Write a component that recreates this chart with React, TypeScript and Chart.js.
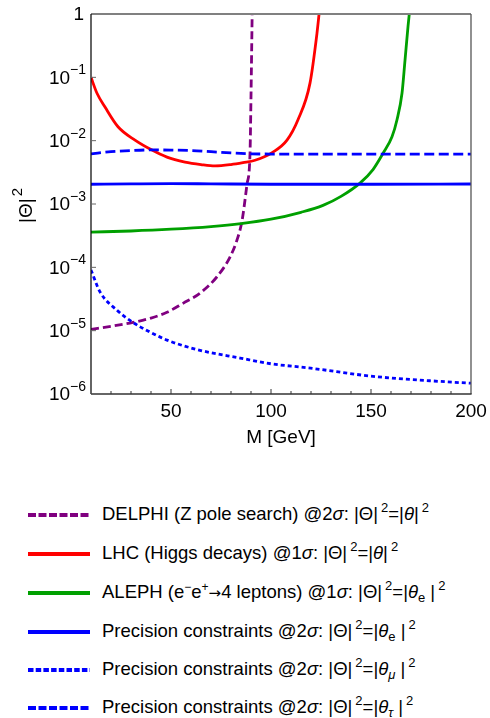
import React, { useEffect, useRef } from 'react';
import { Chart, registerables } from 'chart.js';

Chart.register(...registerables);

// ---- data (M in GeV, |Theta|^2) ----
const delphiM = [10, 20, 31, 40, 48, 56, 64.5, 73, 79.5, 83, 85.5, 88, 89.5, 90, 90.6];
const delphiV = [1.05e-5, 1.17e-5, 1.35e-5, 1.58e-5, 1.95e-5, 2.7e-5, 3.9e-5, 7.1e-5, 1.45e-4, 2.7e-4, 5.4e-4, 2.05e-3, 6.2e-3, 5e-2, 1.12];

const lhcM = [10, 13, 17, 23.5, 32, 40.5, 48, 57, 65, 72, 80, 86, 92, 101, 108, 113.5, 119.5, 123, 124.2];
const lhcV = [0.1, 0.056, 0.034, 0.0166, 0.0102, 0.0071, 0.0055, 0.0046, 0.0042, 0.004, 0.0042, 0.0045, 0.0049, 0.0066, 0.0102, 0.0214, 0.081, 0.5, 1.12];

const alephM = [10, 30, 50, 70, 85, 100, 115, 126, 135, 144.5, 151, 156, 160.5, 163, 165.5, 167, 168.5, 169.3];
const alephV = [3.6e-4, 3.75e-4, 4.0e-4, 4.4e-4, 4.9e-4, 5.75e-4, 7.4e-4, 9.5e-4, 1.32e-3, 2.14e-3, 3.5e-3, 6.3e-3, 1.15e-2, 2.14e-2, 5.6e-2, 0.186, 0.63, 1.12];

const precEM = [10, 30, 50, 70, 100, 150, 200];
const precEV = [2.05e-3, 2.08e-3, 2.1e-3, 2.08e-3, 2.05e-3, 2.05e-3, 2.07e-3];

const precMuM = [10, 14.5, 23, 31, 39.5, 48, 64.5, 84.5, 100, 118, 151, 184.5, 200];
const precMuV = [9.1e-5, 4.1e-5, 2.1e-5, 1.35e-5, 9.5e-6, 7.1e-6, 4.9e-6, 3.7e-6, 3.0e-6, 2.6e-6, 1.9e-6, 1.58e-6, 1.48e-6];

const precTauM = [10, 20, 30, 40, 50, 60, 70, 80, 90, 100, 150, 200];
const precTauV = [6.2e-3, 6.7e-3, 7.0e-3, 7.15e-3, 7.1e-3, 7.0e-3, 6.7e-3, 6.4e-3, 6.2e-3, 6.15e-3, 6.15e-3, 6.15e-3];

const xTickLabels = [50, 100, 150, 200];
const yTickExps = [0, -1, -2, -3, -4, -5, -6];
const xTitle = 'M [GeV]';

const FONT = '"Liberation Sans", Arial, sans-serif';

const pts = (m: number[], v: number[]) => m.map((x, i) => ({ x, y: v[i] }));

const framePlugin = {
  id: 'frame',
  afterDatasetsDraw(chart: any) {
    const { ctx, chartArea: a, scales } = chart;
    const xs = scales.x;
    const ys = scales.y;
    const line = (x1: number, y1: number, x2: number, y2: number, c: string, w: number) => {
      ctx.beginPath();
      ctx.strokeStyle = c;
      ctx.lineWidth = w;
      ctx.moveTo(x1, y1);
      ctx.lineTo(x2, y2);
      ctx.stroke();
    };
    ctx.save();
    ctx.setLineDash([]);
    line(a.left, a.top, a.right, a.top, '#808080', 2);
    line(a.right, a.top, a.right, a.bottom, '#555', 1.3);
    line(a.left, a.bottom, a.right + 0.6, a.bottom, '#333', 1.5);
    line(a.left, a.top, a.left, a.bottom, '#111', 1.3);
    for (let m = 20; m < 200; m += 10) {
      const px = xs.getPixelForValue(m);
      const len = m % 50 === 0 ? 5 : 3;
      line(px, a.bottom, px, a.bottom - len, '#333', 1);
    }
    for (const e of yTickExps) {
      const py = ys.getPixelForValue(Math.pow(10, e));
      if (e !== 0) line(a.left, py, a.left + 5, py, '#666', 1);
    }
    ctx.fillStyle = '#000';
    // y tick labels
    const right = a.left - 5;
    for (const e of yTickExps) {
      const py = ys.getPixelForValue(Math.pow(10, e));
      ctx.textBaseline = 'middle';
      if (e === 0) {
        ctx.font = `19px ${FONT}`;
        ctx.textAlign = 'right';
        ctx.fillText('1', right - 2, py + 1);
        continue;
      }
      ctx.font = `14px ${FONT}`;
      const sup = '\u2212' + String(-e);
      const sw = ctx.measureText(sup).width;
      ctx.textAlign = 'left';
      ctx.fillText(sup, right - sw, py - 7);
      ctx.font = `19px ${FONT}`;
      ctx.textAlign = 'right';
      ctx.fillText('10', right - sw, py + 1);
    }
    // x tick labels
    ctx.font = `19px ${FONT}`;
    ctx.textAlign = 'center';
    ctx.textBaseline = 'middle';
    for (const v of xTickLabels) {
      ctx.fillText(String(v), xs.getPixelForValue(v), a.bottom + 18);
    }
    // x title
    ctx.fillText(xTitle, (a.left + a.right) / 2, a.bottom + 44);
    // y title
    ctx.translate(32, 223);
    ctx.rotate(-Math.PI / 2);
    ctx.textAlign = 'left';
    ctx.textBaseline = 'alphabetic';
    ctx.font = `19px ${FONT}`;
    ctx.fillText('|\u0398|', 0, 0);
    const w = ctx.measureText('|\u0398|').width;
    ctx.font = `15px ${FONT}`;
    ctx.fillText('2', w + 2, -10);
    ctx.restore();
  },
};

const PURPLE = '#800080';
const RED = '#ff0000';
const GREEN = '#00a000';
const BLUE = '#0000ff';

function LegendLine({ color, dash }: { color: string; dash?: string }) {
  return (
    <svg width={62} height={6} style={{ display: 'block', flex: 'none' }}>
      <line x1={0} y1={3} x2={62} y2={3} stroke={color} strokeWidth={4} strokeDasharray={dash} />
    </svg>
  );
}

const supStyle: React.CSSProperties = { fontSize: '13px', position: 'relative', top: '-8px', marginLeft: '3px' };
const subStyle: React.CSSProperties = { fontSize: '13px', position: 'relative', top: '4px' };
const smallSup: React.CSSProperties = { fontSize: '12px', position: 'relative', top: '-7px' };

const Sq = () => <span style={supStyle}>2</span>;

function Theta({ sub, italicSub }: { sub?: string; italicSub?: boolean }) {
  return (
    <>
      |<i>θ</i>
      {sub ? <span style={{ ...subStyle, fontStyle: italicSub ? 'italic' : 'normal' }}>{sub}</span> : null}
      {sub ? ' ' : ''}|<Sq />
    </>
  );
}

const legendRows: { color: string; dash?: string; label: React.ReactNode }[] = [
  {
    color: PURPLE,
    dash: '8 2.5',
    label: (
      <>DELPHI (Z pole search) @2<i>σ</i>: |Θ|<Sq />=<Theta /></>
    ),
  },
  {
    color: RED,
    label: (
      <>LHC (Higgs decays) @1<i>σ</i>: |Θ|<Sq />=<Theta /></>
    ),
  },
  {
    color: GREEN,
    label: (
      <>
        ALEPH (e<span style={smallSup}>−</span>e<span style={smallSup}>+</span>
        <span style={{ fontFamily: '"DejaVu Sans", sans-serif', fontSize: '15px' }}>→</span>4 leptons) @1<i>σ</i>: |Θ|<Sq />=<Theta sub="e" />
      </>
    ),
  },
  {
    color: BLUE,
    label: (
      <>Precision constraints @2<i>σ</i>: |Θ|<Sq />=<Theta sub="e" /></>
    ),
  },
  {
    color: BLUE,
    dash: '5.5 2.2',
    label: (
      <>Precision constraints @2<i>σ</i>: |Θ|<Sq />=<Theta sub="μ" italicSub /></>
    ),
  },
  {
    color: BLUE,
    dash: '8 2.5',
    label: (
      <>Precision constraints @2<i>σ</i>: |Θ|<Sq />=<Theta sub="τ" italicSub /></>
    ),
  },
];

const legendCenters = [515, 554, 593, 632, 670, 708];

export default function App() {
  const ref = useRef<HTMLCanvasElement | null>(null);
  useEffect(() => {
    if (!ref.current) return;
    const chart = new Chart(ref.current, {
      type: 'line',
      data: {
        datasets: [
          { label: 'prec-e', data: pts(precEM, precEV), borderColor: BLUE, borderWidth: 2.8 },
          { label: 'prec-tau', data: pts(precTauM, precTauV), borderColor: BLUE, borderWidth: 2.8, borderDash: [10, 4.5] },
          { label: 'prec-mu', data: pts(precMuM, precMuV), borderColor: BLUE, borderWidth: 2.8, borderDash: [4, 3] },
          { label: 'ALEPH', data: pts(alephM, alephV), borderColor: GREEN, borderWidth: 2.8 },
          { label: 'LHC', data: pts(lhcM, lhcV), borderColor: RED, borderWidth: 2.8 },
          { label: 'DELPHI', data: pts(delphiM, delphiV), borderColor: PURPLE, borderWidth: 2.8, borderDash: [8, 4] },
        ] as any,
      },
      options: {
        animation: false,
        responsive: false,
        devicePixelRatio: 1,
        parsing: false as any,
        layout: { padding: { top: 14, right: 19, left: 0, bottom: 0 } },
        elements: {
          point: { radius: 0, hoverRadius: 0 },
          line: { cubicInterpolationMode: 'monotone', fill: false },
        },
        plugins: { legend: { display: false }, tooltip: { enabled: false } },
        events: [],
        scales: {
          x: {
            type: 'linear',
            min: 10,
            max: 200,
            grid: { display: false },
            border: { display: false },
            ticks: { display: false },
            afterFit: (s: any) => {
              s.height = 66;
            },
          },
          y: {
            type: 'logarithmic',
            min: 1e-6,
            max: 1,
            grid: { display: false },
            border: { display: false },
            ticks: { display: false },
            afterFit: (s: any) => {
              s.width = 91;
            },
          },
        },
      } as any,
      plugins: [framePlugin],
    });
    return () => chart.destroy();
  }, []);

  return (
    <div style={{ position: 'absolute', left: 0, top: 0, width: 490, height: 718, background: '#fff', fontFamily: FONT }}>
      <canvas ref={ref} width={490} height={460} style={{ display: 'block' }} />
      {legendRows.map((r, i) => (
        <div
          key={i}
          style={{
            position: 'absolute',
            left: 28,
            top: legendCenters[i] - 14,
            height: 28,
            display: 'flex',
            alignItems: 'center',
            whiteSpace: 'nowrap',
            fontSize: '18.5px',
            color: '#000',
          }}
        >
          <LegendLine color={r.color} dash={r.dash} />
          <span style={{ marginLeft: 12, lineHeight: '28px' }}>{r.label}</span>
        </div>
      ))}
    </div>
  );
}
